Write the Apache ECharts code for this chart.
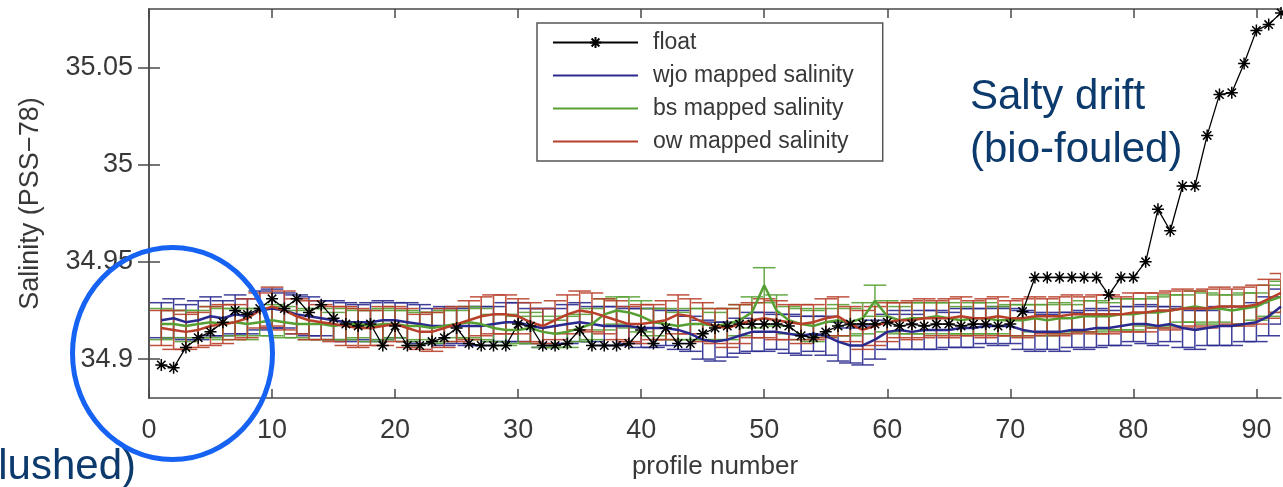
<!DOCTYPE html>
<html>
<head>
<meta charset="utf-8">
<script src="https://cdn.jsdelivr.net/npm/echarts@6/dist/echarts.min.js"></script>
<style>
  html, body { margin: 0; padding: 0; background: #fff; }
  #chart { width: 1283px; height: 487px; }
</style>
</head>
<body>
<div id="chart"></div>
<script>
// Profile numbers along the float's life
const profiles = [
  1, 2, 3, 4, 5, 6, 7, 8, 9, 10, 11, 12, 13, 14, 15, 16, 17, 18, 19, 20,
  21, 22, 23, 24, 25, 26, 27, 28, 29, 30, 31, 32, 33, 34, 35, 36, 37, 38, 39, 40,
  41, 42, 43, 44, 45, 46, 47, 48, 49, 50, 51, 52, 53, 54, 55, 56, 57, 58, 59, 60,
  61, 62, 63, 64, 65, 66, 67, 68, 69, 70, 71, 72, 73, 74, 75, 76, 77, 78, 79, 80,
  81, 82, 83, 84, 85, 86, 87, 88, 89, 90, 91, 92
];

// Float-measured salinity
const floatSal = [
  34.897, 34.8955, 34.906, 34.911, 34.914, 34.919, 34.925, 34.923, 34.926, 34.931,
  34.926, 34.931, 34.924, 34.928, 34.921, 34.918, 34.917, 34.918, 34.907, 34.917,
  34.907, 34.907, 34.909, 34.911, 34.916, 34.908, 34.907, 34.907, 34.907, 34.918,
  34.917, 34.907, 34.907, 34.908, 34.915, 34.907, 34.907, 34.907, 34.908, 34.915,
  34.908, 34.916, 34.908, 34.908, 34.913, 34.916, 34.917, 34.918, 34.918, 34.918,
  34.918, 34.917, 34.912, 34.911, 34.914, 34.917, 34.918, 34.918, 34.918, 34.919,
  34.917, 34.918, 34.917, 34.918, 34.918, 34.917, 34.918, 34.918, 34.917, 34.918,
  34.9245, 34.942, 34.942, 34.942, 34.942, 34.942, 34.942, 34.933, 34.942, 34.942,
  34.950, 34.977, 34.966, 34.989, 34.989, 35.015, 35.036, 35.037, 35.052, 35.069,
  35.072, 35.078
];

// WJO mapped salinity and its error
const wjoSal = [
  34.920, 34.921, 34.919, 34.920, 34.922, 34.921, 34.923, 34.922, 34.925, 34.926,
  34.925, 34.923, 34.922, 34.921, 34.920, 34.919, 34.919, 34.919, 34.920, 34.920,
  34.919, 34.918, 34.917, 34.917, 34.917, 34.917, 34.917, 34.918, 34.919, 34.919,
  34.917, 34.916, 34.917, 34.918, 34.919, 34.918, 34.917, 34.917, 34.917, 34.916,
  34.916, 34.916, 34.915, 34.913, 34.910, 34.909, 34.910, 34.912, 34.914, 34.914,
  34.914, 34.913, 34.912, 34.913, 34.912, 34.909, 34.907, 34.907, 34.910, 34.914,
  34.915, 34.914, 34.915, 34.915, 34.915, 34.916, 34.916, 34.917, 34.917, 34.917,
  34.915, 34.914, 34.914, 34.914, 34.915, 34.915, 34.916, 34.916, 34.917, 34.918,
  34.918, 34.917, 34.918, 34.916, 34.915, 34.916, 34.917, 34.917, 34.918, 34.919,
  34.922, 34.927
];
const wjoErr = [
  0.009, 0.010, 0.009, 0.010, 0.010, 0.009, 0.010, 0.009, 0.010, 0.010,
  0.009, 0.010, 0.010, 0.009, 0.010, 0.010, 0.009, 0.010, 0.010, 0.009,
  0.010, 0.010, 0.009, 0.010, 0.009, 0.010, 0.010, 0.009, 0.010, 0.010,
  0.009, 0.010, 0.009, 0.010, 0.010, 0.009, 0.010, 0.010, 0.009, 0.010,
  0.010, 0.009, 0.010, 0.009, 0.010, 0.010, 0.009, 0.009, 0.010, 0.010,
  0.009, 0.010, 0.010, 0.009, 0.010, 0.010, 0.009, 0.010, 0.010, 0.009,
  0.010, 0.009, 0.010, 0.010, 0.009, 0.010, 0.010, 0.009, 0.010, 0.009,
  0.010, 0.010, 0.009, 0.010, 0.009, 0.010, 0.010, 0.009, 0.010, 0.009,
  0.010, 0.010, 0.009, 0.010, 0.010, 0.009, 0.010, 0.010, 0.009, 0.010,
  0.010, 0.009
];

// BS mapped salinity and its error
const bsSal = [
  34.918, 34.918, 34.917, 34.918, 34.919, 34.918, 34.919, 34.918, 34.919, 34.920,
  34.919, 34.918, 34.918, 34.918, 34.917, 34.918, 34.918, 34.917, 34.918, 34.918,
  34.917, 34.917, 34.916, 34.917, 34.918, 34.919, 34.918, 34.916, 34.915, 34.915,
  34.916, 34.914, 34.913, 34.914, 34.916, 34.918, 34.923, 34.925, 34.924, 34.922,
  34.919, 34.918, 34.917, 34.918, 34.918, 34.917, 34.918, 34.920, 34.924, 34.938,
  34.925, 34.920, 34.918, 34.917, 34.919, 34.920, 34.919, 34.921, 34.930, 34.922,
  34.920, 34.921, 34.921, 34.922, 34.921, 34.920, 34.921, 34.921, 34.920, 34.920,
  34.920, 34.921, 34.920, 34.921, 34.921, 34.922, 34.922, 34.922, 34.923, 34.923,
  34.924, 34.924, 34.925, 34.926, 34.927, 34.926, 34.926, 34.925, 34.926, 34.927,
  34.930, 34.932
];
const bsErr = [
  0.008, 0.007, 0.008, 0.007, 0.008, 0.008, 0.007, 0.008, 0.007, 0.008,
  0.008, 0.007, 0.008, 0.008, 0.007, 0.008, 0.007, 0.008, 0.008, 0.007,
  0.008, 0.007, 0.008, 0.008, 0.007, 0.008, 0.008, 0.007, 0.008, 0.007,
  0.008, 0.008, 0.007, 0.008, 0.007, 0.008, 0.008, 0.007, 0.008, 0.008,
  0.007, 0.008, 0.007, 0.008, 0.008, 0.007, 0.008, 0.008, 0.008, 0.009,
  0.008, 0.007, 0.008, 0.008, 0.007, 0.008, 0.007, 0.008, 0.008, 0.008,
  0.007, 0.008, 0.008, 0.007, 0.008, 0.007, 0.008, 0.008, 0.007, 0.008,
  0.008, 0.007, 0.008, 0.008, 0.007, 0.008, 0.008, 0.007, 0.008, 0.008,
  0.007, 0.008, 0.008, 0.007, 0.008, 0.008, 0.007, 0.008, 0.008, 0.007,
  0.008, 0.008
];

// OW mapped salinity and its error
const owSal = [
  34.916, 34.915, 34.914, 34.915, 34.917, 34.918, 34.919, 34.921, 34.925, 34.927,
  34.925, 34.922, 34.920, 34.919, 34.918, 34.917, 34.916, 34.916, 34.917, 34.918,
  34.916, 34.914, 34.914, 34.916, 34.918, 34.920, 34.922, 34.923, 34.923, 34.922,
  34.919, 34.917, 34.920, 34.923, 34.925, 34.924, 34.922, 34.920, 34.918, 34.918,
  34.919, 34.920, 34.923, 34.922, 34.919, 34.917, 34.916, 34.918, 34.920, 34.921,
  34.920, 34.919, 34.918, 34.919, 34.921, 34.922, 34.918, 34.915, 34.917, 34.919,
  34.920, 34.920, 34.921, 34.921, 34.921, 34.922, 34.921, 34.921, 34.922, 34.921,
  34.921, 34.922, 34.922, 34.922, 34.923, 34.923, 34.923, 34.923, 34.923, 34.924,
  34.924, 34.925, 34.925, 34.926, 34.926, 34.926, 34.927, 34.927, 34.927, 34.928,
  34.931, 34.934
];
const owErr = [
  0.009, 0.010, 0.009, 0.009, 0.010, 0.010, 0.009, 0.010, 0.009, 0.010,
  0.010, 0.009, 0.010, 0.009, 0.009, 0.010, 0.010, 0.009, 0.010, 0.009,
  0.010, 0.009, 0.010, 0.010, 0.009, 0.010, 0.010, 0.010, 0.010, 0.009,
  0.010, 0.009, 0.010, 0.010, 0.010, 0.010, 0.009, 0.010, 0.009, 0.010,
  0.009, 0.010, 0.010, 0.009, 0.010, 0.009, 0.010, 0.010, 0.009, 0.010,
  0.010, 0.009, 0.010, 0.009, 0.010, 0.010, 0.009, 0.010, 0.010, 0.010,
  0.009, 0.010, 0.010, 0.009, 0.010, 0.010, 0.009, 0.010, 0.010, 0.009,
  0.010, 0.010, 0.009, 0.010, 0.010, 0.009, 0.010, 0.010, 0.009, 0.010,
  0.010, 0.009, 0.010, 0.010, 0.009, 0.010, 0.010, 0.009, 0.010, 0.010,
  0.010, 0.010
];

// Axis ticks and their labels
const xTicks = [0, 10, 20, 30, 40, 50, 60, 70, 80, 90];
const yTicks = [34.9, 34.95, 35, 35.05];
const yTickLabels = ['34.9', '34.95', '35', '35.05'];

const FONT = '"Liberation Sans", Arial, Helvetica, sans-serif';
const AXIS_COLOR = '#4a4a4a';
const TEXT_COLOR = '#383838';
const CAP_HALF = 0.92; // half width of error-bar caps, in profile units

const COLORS = {
  float: '#000000',
  wjo: '#2a2a8e',
  bs: '#56a033',
  ow: '#b83f2a'
};

function pairs(ys) {
  return profiles.map((p, i) => [p, ys[i]]);
}
function triples(ys, es) {
  return profiles.map((p, i) => [p, ys[i], es[i]]);
}

function errorBarRenderer(color) {
  return function (params, api) {
    const x = api.value(0), y = api.value(1), e = api.value(2);
    const top = api.coord([x, y + e]);
    const bot = api.coord([x, y - e]);
    const l = api.coord([x - CAP_HALF, y])[0];
    const r = api.coord([x + CAP_HALF, y])[0];
    const style = { stroke: color, lineWidth: 1.5, opacity: 0.9 };
    return {
      type: 'group',
      children: [
        { type: 'line', shape: { x1: top[0], y1: top[1], x2: bot[0], y2: bot[1] }, style },
        { type: 'line', shape: { x1: l, y1: top[1], x2: r, y2: top[1] }, style },
        { type: 'line', shape: { x1: l, y1: bot[1], x2: r, y2: bot[1] }, style }
      ]
    };
  };
}

function errorSeries(name, ys, es, color) {
  return {
    name: name,
    type: 'custom',
    data: triples(ys, es),
    renderItem: errorBarRenderer(color),
    encode: { x: 0, y: [1] },
    clip: true,
    silent: true
  };
}

function mappedLine(name, ys, color) {
  return {
    name: name,
    type: 'line',
    data: pairs(ys),
    symbol: 'none',
    lineStyle: { color: color, width: 2.5 },
    itemStyle: { color: color },
    clip: true
  };
}

const ASTERISK = 'path://M5,0L5,10M0,5L10,5M1.5,1.5L8.5,8.5M1.5,8.5L8.5,1.5';

const chart = echarts.init(document.getElementById('chart'), null, { renderer: 'canvas' });

const tickLabelFont = { fontFamily: FONT, fontSize: 27, color: TEXT_COLOR };

chart.setOption({
  animation: false,
  backgroundColor: '#ffffff',
  grid: { left: 149, right: 2, top: 9, bottom: 89, containLabel: false },
  xAxis: [
    {
      type: 'value', position: 'bottom', min: 0, max: 92,
      axisLine: { show: true, lineStyle: { color: AXIS_COLOR, width: 1.5 } },
      axisTick: { show: true, inside: true, length: 9, customValues: xTicks, lineStyle: { color: AXIS_COLOR, width: 1.5 } },
      axisLabel: Object.assign({ customValues: xTicks, margin: 19 }, tickLabelFont),
      splitLine: { show: false },
      name: 'profile number', nameLocation: 'middle', nameGap: 56,
      nameTextStyle: { fontFamily: FONT, fontSize: 26, color: TEXT_COLOR }
    },
    {
      type: 'value', position: 'top', min: 0, max: 92,
      axisLine: { show: true, lineStyle: { color: AXIS_COLOR, width: 1.5 } },
      axisTick: { show: true, inside: true, length: 9, customValues: xTicks, lineStyle: { color: AXIS_COLOR, width: 1.5 } },
      axisLabel: { show: false },
      splitLine: { show: false }
    }
  ],
  yAxis: [
    {
      type: 'value', position: 'left', min: 34.88, max: 35.08,
      axisLine: { show: true, lineStyle: { color: AXIS_COLOR, width: 1.5 } },
      axisTick: { show: true, inside: true, length: 11, customValues: yTicks, lineStyle: { color: AXIS_COLOR, width: 1.5 } },
      axisLabel: Object.assign({
        customValues: yTicks, margin: 16,
        formatter: function (v) {
          let best = 0;
          for (let i = 1; i < yTicks.length; i++) {
            if (Math.abs(yTicks[i] - v) < Math.abs(yTicks[best] - v)) best = i;
          }
          return yTickLabels[best];
        }
      }, tickLabelFont),
      splitLine: { show: false },
      name: 'Salinity (PSS\u221278)', nameLocation: 'middle', nameGap: 105,
      nameTextStyle: { fontFamily: FONT, fontSize: 27, color: TEXT_COLOR }
    },
    {
      type: 'value', position: 'right', min: 34.88, max: 35.08,
      axisLine: { show: true, lineStyle: { color: AXIS_COLOR, width: 1.5 } },
      axisTick: { show: true, inside: true, length: 11, customValues: yTicks, lineStyle: { color: AXIS_COLOR, width: 1.5 } },
      axisLabel: { show: false },
      splitLine: { show: false }
    }
  ],
  legend: {
    data: [
      { name: 'float' },
      { name: 'wjo mapped salinity', itemStyle: { opacity: 0 } },
      { name: 'bs mapped salinity', itemStyle: { opacity: 0 } },
      { name: 'ow mapped salinity', itemStyle: { opacity: 0 } }
    ],
    orient: 'vertical',
    left: 537, top: 23,
    padding: [8, 29, 8, 15],
    itemWidth: 85, itemHeight: 14, itemGap: 10,
    borderColor: '#555555', borderWidth: 1.5, borderRadius: 0,
    backgroundColor: '#ffffff',
    selectedMode: false,
    textStyle: { fontFamily: FONT, fontSize: 23, color: TEXT_COLOR, padding: [0, 0, 0, 10] }
  },
  series: [
    {
      name: 'float',
      type: 'line',
      data: pairs(floatSal),
      symbol: ASTERISK,
      symbolSize: 12,
      showAllSymbol: true,
      lineStyle: { color: COLORS.float, width: 1.3 },
      itemStyle: { color: COLORS.float, borderColor: COLORS.float, borderWidth: 1.5 },
      clip: true
    },
    errorSeries('wjo error', wjoSal, wjoErr, COLORS.wjo),
    mappedLine('wjo mapped salinity', wjoSal, COLORS.wjo),
    errorSeries('bs error', bsSal, bsErr, COLORS.bs),
    mappedLine('bs mapped salinity', bsSal, COLORS.bs),
    errorSeries('ow error', owSal, owErr, COLORS.ow),
    mappedLine('ow mapped salinity', owSal, COLORS.ow)
  ],
  graphic: [
    {
      type: 'text', z: 100,
      x: 970, y: 97.5,
      style: { text: 'Salty drift', font: '42px ' + FONT, fill: '#0d3a6c', verticalAlign: 'middle', align: 'left' }
    },
    {
      type: 'text', z: 100,
      x: 970, y: 150.5,
      style: { text: '(bio-fouled)', font: '42px ' + FONT, fill: '#0d3a6c', verticalAlign: 'middle', align: 'left' }
    },
    {
      type: 'text', z: 100,
      x: 136, y: 467.5,
      style: { text: '(flushed)', font: '42px ' + FONT, fill: '#0d3a6c', verticalAlign: 'middle', align: 'right' }
    },
    {
      type: 'ellipse', z: 100,
      shape: { cx: 172.5, cy: 353.5, rx: 100, ry: 106 },
      style: { fill: null, stroke: '#1662f2', lineWidth: 5 }
    }
  ]
});
</script>
</body>
</html>
